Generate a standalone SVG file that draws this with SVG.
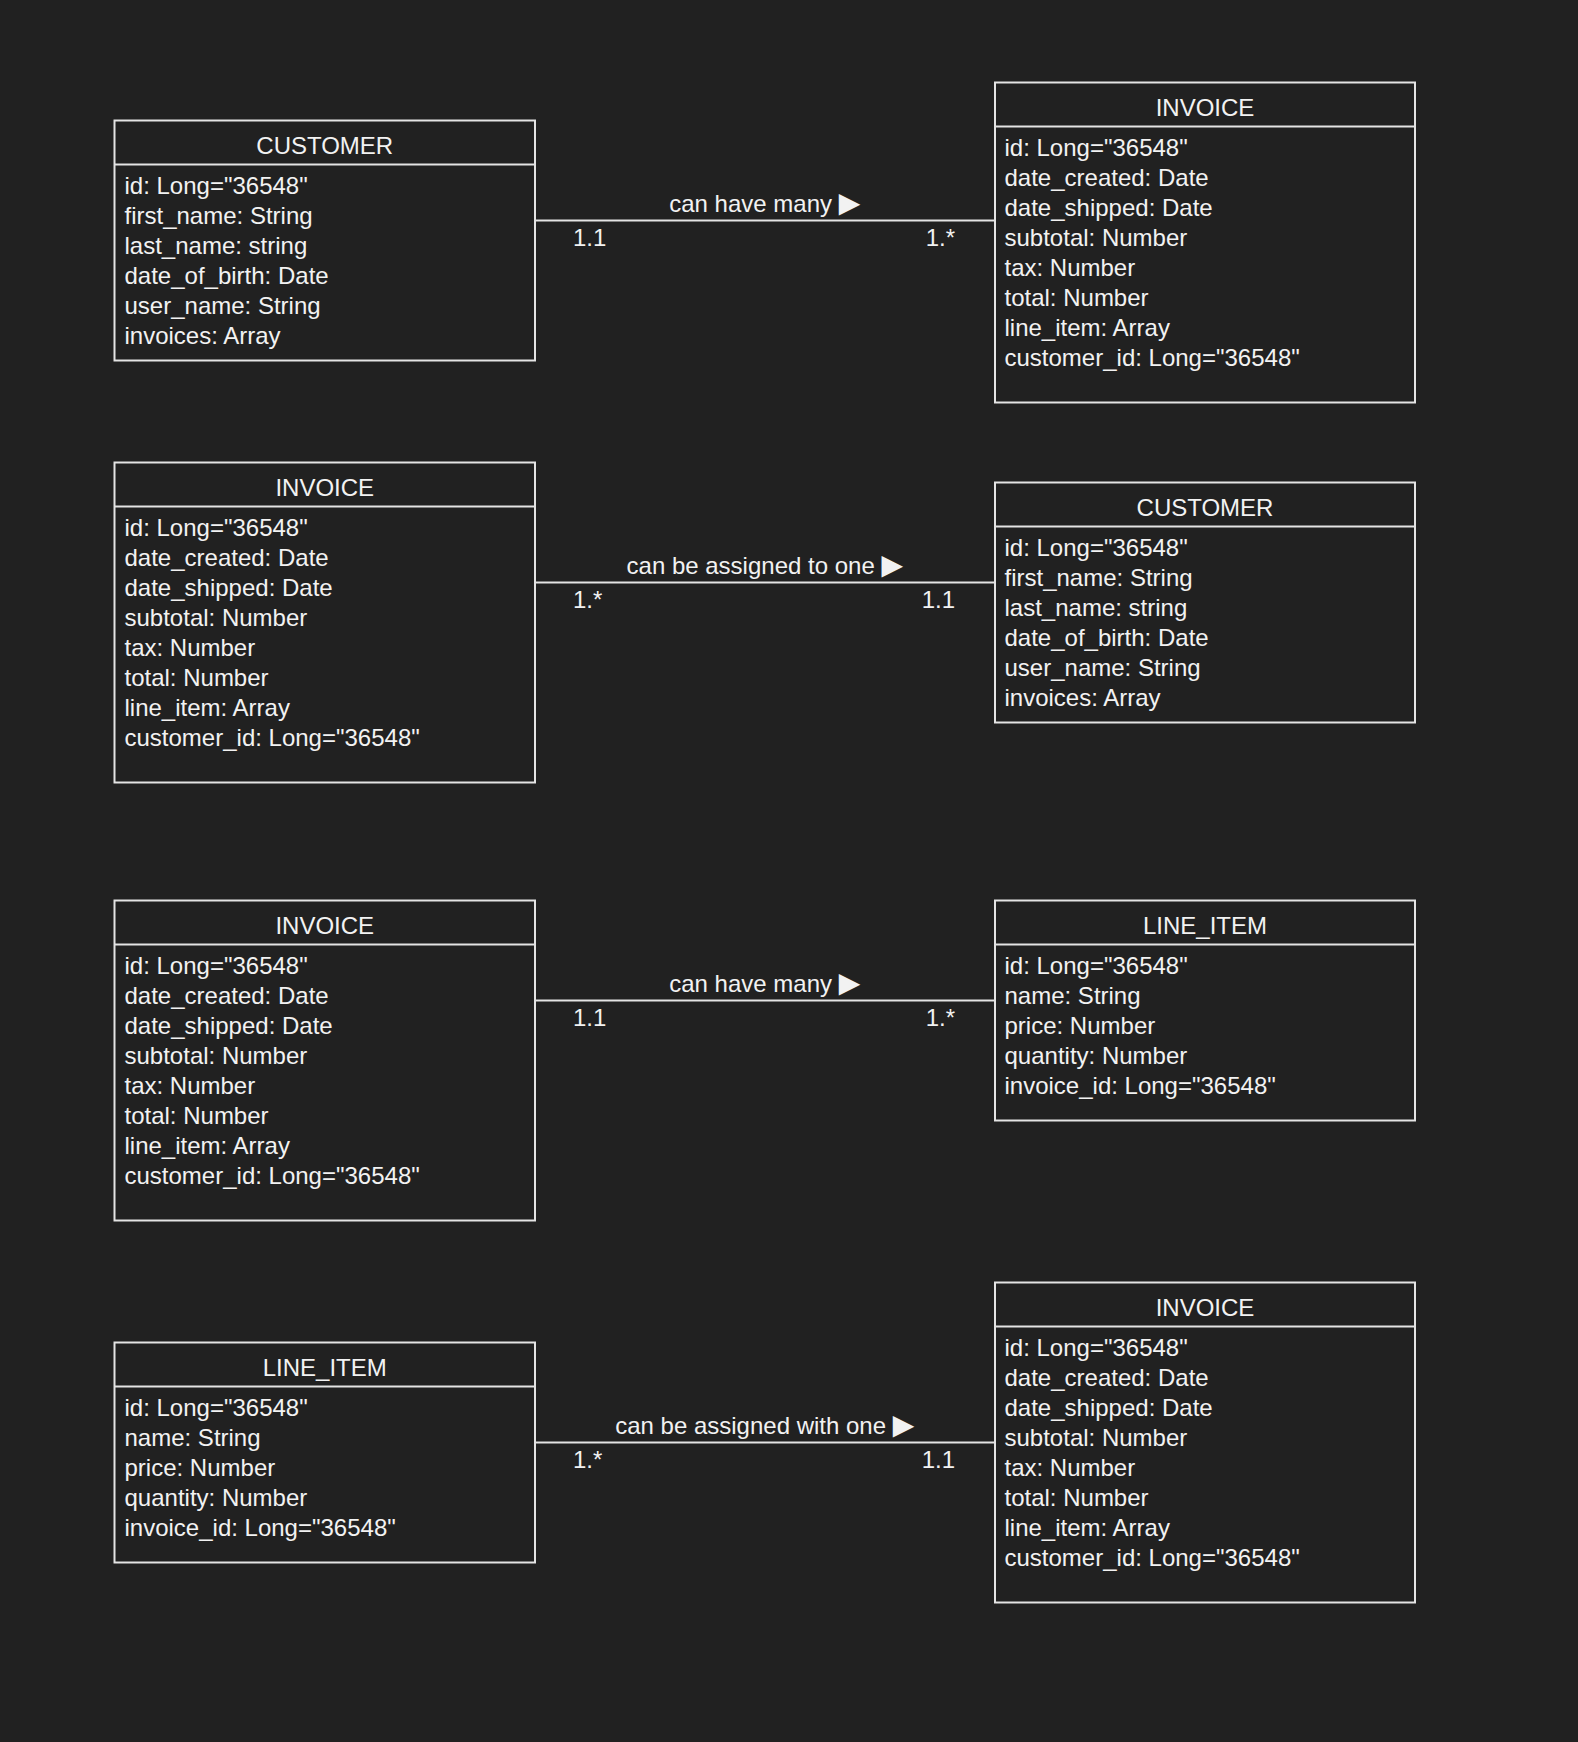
<svg xmlns="http://www.w3.org/2000/svg" width="1578" height="1742" viewBox="0 0 1578 1742">
<style>
.box{fill:#212121;stroke:#e4e4e4;stroke-width:2}
.sep{stroke:#e4e4e4;stroke-width:2}
.t{font-family:"Liberation Sans",Arial,sans-serif;font-size:24px;fill:#f2f2f2}
.h{text-anchor:middle}
.m{text-anchor:middle}
.e{text-anchor:end}
.tri{font-family:"DejaVu Sans",sans-serif;font-size:28px}
.conn{stroke:#e4e4e4;stroke-width:2;fill:none}
</style>
<rect x="0" y="0" width="1578" height="1742" fill="#212121"/>

<g id="customer1">
<rect class="box" x="114.5" y="120.5" width="420.5" height="240"/>
<line class="sep" x1="114.5" y1="164.5" x2="535" y2="164.5"/>
<text class="t h" x="324.75" y="154">CUSTOMER</text>
<text class="t" x="124.5" y="194">id: Long="36548"</text>
<text class="t" x="124.5" y="224">first_name: String</text>
<text class="t" x="124.5" y="254">last_name: string</text>
<text class="t" x="124.5" y="284">date_of_birth: Date</text>
<text class="t" x="124.5" y="314">user_name: String</text>
<text class="t" x="124.5" y="344">invoices: Array</text>
</g>

<g id="invoice1">
<rect class="box" x="995" y="82.5" width="420" height="320"/>
<line class="sep" x1="995" y1="126.5" x2="1415" y2="126.5"/>
<text class="t h" x="1205" y="116">INVOICE</text>
<text class="t" x="1004.5" y="156">id: Long="36548"</text>
<text class="t" x="1004.5" y="186">date_created: Date</text>
<text class="t" x="1004.5" y="216">date_shipped: Date</text>
<text class="t" x="1004.5" y="246">subtotal: Number</text>
<text class="t" x="1004.5" y="276">tax: Number</text>
<text class="t" x="1004.5" y="306">total: Number</text>
<text class="t" x="1004.5" y="336">line_item: Array</text>
<text class="t" x="1004.5" y="366">customer_id: Long="36548"</text>
</g>

<g id="invoice2">
<rect class="box" x="114.5" y="462.5" width="420.5" height="320"/>
<line class="sep" x1="114.5" y1="506.5" x2="535" y2="506.5"/>
<text class="t h" x="324.75" y="496">INVOICE</text>
<text class="t" x="124.5" y="536">id: Long="36548"</text>
<text class="t" x="124.5" y="566">date_created: Date</text>
<text class="t" x="124.5" y="596">date_shipped: Date</text>
<text class="t" x="124.5" y="626">subtotal: Number</text>
<text class="t" x="124.5" y="656">tax: Number</text>
<text class="t" x="124.5" y="686">total: Number</text>
<text class="t" x="124.5" y="716">line_item: Array</text>
<text class="t" x="124.5" y="746">customer_id: Long="36548"</text>
</g>

<g id="customer2">
<rect class="box" x="995" y="482.5" width="420" height="240"/>
<line class="sep" x1="995" y1="526.5" x2="1415" y2="526.5"/>
<text class="t h" x="1205" y="516">CUSTOMER</text>
<text class="t" x="1004.5" y="556">id: Long="36548"</text>
<text class="t" x="1004.5" y="586">first_name: String</text>
<text class="t" x="1004.5" y="616">last_name: string</text>
<text class="t" x="1004.5" y="646">date_of_birth: Date</text>
<text class="t" x="1004.5" y="676">user_name: String</text>
<text class="t" x="1004.5" y="706">invoices: Array</text>
</g>

<g id="invoice3">
<rect class="box" x="114.5" y="900.5" width="420.5" height="320"/>
<line class="sep" x1="114.5" y1="944.5" x2="535" y2="944.5"/>
<text class="t h" x="324.75" y="934">INVOICE</text>
<text class="t" x="124.5" y="974">id: Long="36548"</text>
<text class="t" x="124.5" y="1004">date_created: Date</text>
<text class="t" x="124.5" y="1034">date_shipped: Date</text>
<text class="t" x="124.5" y="1064">subtotal: Number</text>
<text class="t" x="124.5" y="1094">tax: Number</text>
<text class="t" x="124.5" y="1124">total: Number</text>
<text class="t" x="124.5" y="1154">line_item: Array</text>
<text class="t" x="124.5" y="1184">customer_id: Long="36548"</text>
</g>

<g id="lineitem1">
<rect class="box" x="995" y="900.5" width="420" height="220"/>
<line class="sep" x1="995" y1="944.5" x2="1415" y2="944.5"/>
<text class="t h" x="1205" y="934">LINE_ITEM</text>
<text class="t" x="1004.5" y="974">id: Long="36548"</text>
<text class="t" x="1004.5" y="1004">name: String</text>
<text class="t" x="1004.5" y="1034">price: Number</text>
<text class="t" x="1004.5" y="1064">quantity: Number</text>
<text class="t" x="1004.5" y="1094">invoice_id: Long="36548"</text>
</g>

<g id="lineitem2">
<rect class="box" x="114.5" y="1342.5" width="420.5" height="220"/>
<line class="sep" x1="114.5" y1="1386.5" x2="535" y2="1386.5"/>
<text class="t h" x="324.75" y="1376">LINE_ITEM</text>
<text class="t" x="124.5" y="1416">id: Long="36548"</text>
<text class="t" x="124.5" y="1446">name: String</text>
<text class="t" x="124.5" y="1476">price: Number</text>
<text class="t" x="124.5" y="1506">quantity: Number</text>
<text class="t" x="124.5" y="1536">invoice_id: Long="36548"</text>
</g>

<g id="invoice4">
<rect class="box" x="995" y="1282.5" width="420" height="320"/>
<line class="sep" x1="995" y1="1326.5" x2="1415" y2="1326.5"/>
<text class="t h" x="1205" y="1316">INVOICE</text>
<text class="t" x="1004.5" y="1356">id: Long="36548"</text>
<text class="t" x="1004.5" y="1386">date_created: Date</text>
<text class="t" x="1004.5" y="1416">date_shipped: Date</text>
<text class="t" x="1004.5" y="1446">subtotal: Number</text>
<text class="t" x="1004.5" y="1476">tax: Number</text>
<text class="t" x="1004.5" y="1506">total: Number</text>
<text class="t" x="1004.5" y="1536">line_item: Array</text>
<text class="t" x="1004.5" y="1566">customer_id: Long="36548"</text>
</g>

<g id="connectors">
<line class="conn" x1="535" y1="220.5" x2="995" y2="220.5"/>
<text class="t m" x="764.75" y="212">can have many <tspan class="tri">▶</tspan></text>
<text class="t" x="573" y="246">1.1</text>
<text class="t e" x="955" y="246">1.*</text>

<line class="conn" x1="535" y1="582.5" x2="995" y2="582.5"/>
<text class="t m" x="764.75" y="574">can be assigned to one <tspan class="tri">▶</tspan></text>
<text class="t" x="573" y="608">1.*</text>
<text class="t e" x="955" y="608">1.1</text>

<line class="conn" x1="535" y1="1000.5" x2="995" y2="1000.5"/>
<text class="t m" x="764.75" y="992">can have many <tspan class="tri">▶</tspan></text>
<text class="t" x="573" y="1026">1.1</text>
<text class="t e" x="955" y="1026">1.*</text>

<line class="conn" x1="535" y1="1442.5" x2="995" y2="1442.5"/>
<text class="t m" x="764.75" y="1434">can be assigned with one <tspan class="tri">▶</tspan></text>
<text class="t" x="573" y="1468">1.*</text>
<text class="t e" x="955" y="1468">1.1</text>
</g>
</svg>
